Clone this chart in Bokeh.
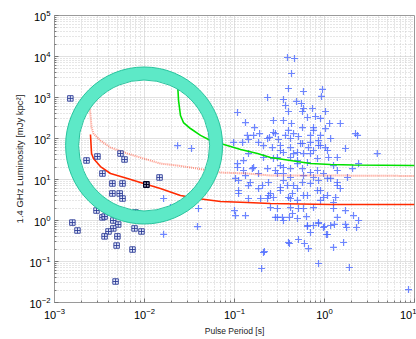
from bokeh.plotting import figure
from bokeh.models import FixedTicker
from bokeh.embed import file_html
from bokeh.resources import INLINE

# ---- normal pulsars (period [s], 1.4 GHz luminosity [mJy kpc^2]) ----
psr_period = [
    0.0233, 0.0333, 0.0398, 0.0194, 0.0163, 0.0388, 0.0163, 0.210, 0.200, 0.108,
    0.1325, 0.167, 0.139, 0.123, 0.185, 0.233, 0.210, 0.108, 0.126, 0.158,
    0.233, 0.185, 0.1325, 0.111, 0.143, 0.185, 0.239, 0.111, 0.195, 0.239,
    0.100, 0.1325, 0.233,
    0.388, 0.464, 0.430, 0.398, 0.350, 0.584, 0.950, 0.926, 0.489, 0.555,
    0.369, 0.398, 0.570, 0.647, 0.794, 0.903, 1.026, 0.271, 0.350, 0.430,
    0.398, 0.570, 0.755, 1.14, 0.163, 0.190, 0.143, 0.245, 0.285, 0.308,
    0.369, 0.514, 0.699, 0.858, 1.17, 0.0977, 0.264, 0.324, 0.419, 0.541,
    0.664, 0.903, 0.350, 0.453, 0.584, 0.755, 1.08, 0.143, 0.210, 0.271,
    0.501, 0.647, 0.836, 1.39, 0.108, 0.163, 0.324, 0.419, 0.570, 1.26,
    0.126, 0.285, 0.350, 0.699, 0.1026, 0.150, 0.205, 0.350, 0.453, 0.570,
    0.858, 1.17, 1.39, 0.111, 0.251, 0.324, 0.441, 0.647, 0.836, 1.08,
    0.143, 0.233, 0.398, 0.501, 0.903, 1.26, 0.251, 0.514, 0.584, 0.441,
    0.1026, 0.285, 0.341, 0.408, 0.631, 0.858, 1.00, 1.17, 0.647, 0.699,
    1.08, 0.398, 0.514, 0.599, 0.664, 0.215, 0.858,
    1.50, 2.21, 2.33, 3.86, 1.71, 2.39, 2.05, 1.39, 1.80, 1.39,
    1.50, 1.33, 1.71, 1.26, 2.10, 2.39, 1.39,
    0.408, 0.647, 0.858, 1.05, 1.29, 1.26, 1.71, 1.76, 2.27, 1.63,
    1.89, 8.58, 0.584, 0.736,
    0.271, 0.453, 0.755, 0.903, 1.026, 0.419, 0.570, 0.699, 0.858, 1.026,
    0.699, 0.501, 0.324, 0.300, 0.419, 1.11, 0.350, 0.501, 0.836, 0.975,
    0.419, 0.584, 0.300, 0.755, 1.08, 0.324, 0.388, 0.501, 0.699, 0.903,
    0.584, 0.271, 0.419, 0.975, 0.300, 0.419, 0.755, 0.300, 0.350, 0.501,
    0.755, 0.975,
]
psr_lum = [
    67, 57, 1.96, 2.07, 3.44, 0.71, 0.46, 0.166, 0.0675, 431,
    245, 185, 119, 80, 80, 100, 67, 24.5, 29, 18.5,
    18.5, 14, 12.5, 9.45, 7.1, 6.0, 8.45, 4.56, 3.44, 4.07,
    1.75, 1.32, 1000,
    9450, 8940, 3850, 1660, 894, 1400, 1570, 1060, 800, 714,
    638, 456, 456, 325, 344, 308, 456, 275, 275, 232,
    157, 185, 185, 232, 119, 132, 94.5, 106, 132, 94.5,
    119, 112, 119, 89, 100, 80, 60, 67.5, 60, 75.5,
    60, 67.5, 45.6, 43, 43, 51, 51, 43, 34.4, 32.5,
    29, 26, 32.5, 34.4, 19.6, 19.6, 21.9, 18.5, 18.5, 21.9,
    16.6, 16.6, 14, 14.8, 10.6, 8.45, 7.14, 9.45, 7.14, 8.45,
    9.45, 10.6, 7.14, 5.39, 4.56, 5.39, 4.56, 4.07, 5.39, 4.07,
    3.44, 3.44, 3.64, 3.08, 3.08, 2.75, 2.07, 1.96, 1.96, 1.48,
    1.32, 1.19, 1.19, 1.19, 1.25, 0.894, 0.714, 0.755, 0.714, 0.51,
    0.456, 0.291, 0.344, 0.275, 0.207, 0.175, 0.0894,
    232, 132, 119, 43, 57, 24.5, 18.5, 16.6, 11.2, 8.45,
    6.03, 3.64, 1.75, 1.96, 1.32, 1.0, 1.19,
    0.275, 0.755, 0.845, 0.456, 0.80, 0.22, 0.80, 0.675, 0.675, 0.291,
    0.0714, 0.0207, 539, 539,
    140, 132, 157, 119, 175, 100, 75.5, 80, 67.5, 60,
    43, 45.6, 51, 34.4, 34.4, 34.4, 19.6, 24.5, 16.6, 14,
    11.2, 12.5, 14, 11.2, 10.6, 6.38, 7.14, 6.03, 8.0, 5.39,
    4.07, 3.64, 3.44, 3.64, 1.96, 2.07, 2.07, 1.19, 1.0, 1.12,
    0.755, 0.675,
]

# ---- millisecond pulsars ----
msp_period = [
    0.0015, 0.00227, 0.0030, 0.00541, 0.0060, 0.00341, 0.0044, 0.0057, 0.0044, 0.0053,
    0.0057, 0.0147, 0.00293, 0.00341, 0.0036, 0.00794, 0.00158, 0.0018, 0.0045, 0.0051,
    0.0045, 0.00398, 0.0036, 0.0050, 0.00775, 0.00926, 0.0049, 0.00736, 0.00477,
]
msp_lum = [
    950, 29.1, 36.4, 43, 30.8, 14.0, 8.0, 8.0, 4.56, 4.56,
    3.44, 11.2, 1.75, 1.19, 1.25, 1.57, 0.89, 0.57, 1.0, 0.80,
    0.64, 0.54, 0.41, 0.41, 0.64, 0.54, 0.245, 0.196, 0.0325,
]
msp_hl_period = [0.0105]
msp_hl_lum = [7.55]

# ---- sensitivity curves ----
green_period = [0.0233, 0.0239, 0.0251, 0.0271, 0.0324, 0.0419, 0.0541, 0.0699,
                0.117, 0.180, 0.251, 0.419, 0.699, 1.17, 2.1, 10]
green_lum = [2190, 845, 364, 245, 175, 119, 89, 75.5,
             54, 43, 34.4, 29, 24.5, 23.2, 22.6, 21.9]

red_period = [0.00251, 0.00258, 0.00271, 0.00324, 0.00419, 0.00647, 0.00977, 0.015,
              0.0251, 0.0388, 0.0699, 0.139, 0.251, 1.17, 10]
red_lum = [125, 43, 32.5, 20.7, 14, 10.6, 8.0, 6.0,
           4.07, 3.44, 2.91, 2.75, 2.6, 2.45, 2.45]

reddot_period = [0.00245, 0.00251, 0.00258, 0.00271, 0.00324, 0.00419, 0.00647, 0.00977,
                 0.015, 0.0233, 0.0388, 0.0699, 0.139, 0.251, 1.17, 10]
reddot_lum = [638, 364, 185, 132, 89, 60, 43, 32.5,
              24.5, 21.9, 18.5, 14.8, 14, 12.5, 12.5, 12.2]

# ---- highlight ring (centre) ----
ring_period = [0.0099]
ring_lum = [67.5]

x_ticks = [1e-3, 1e-2, 1e-1, 1e0, 1e1]
y_ticks = [1e-2, 1e-1, 1e0, 1e1, 1e2, 1e3, 1e4, 1e5]
x_minor = [m * t for t in x_ticks[:-1] for m in range(2, 10)]
y_minor = [m * t for t in y_ticks[:-1] for m in range(2, 10)]

FONT = "Liberation Sans"

p = figure(width=416, height=339, x_axis_type="log", y_axis_type="log",
           x_range=(1e-3, 10), y_range=(1e-2, 1e5),
           output_backend="svg", toolbar_location=None,
           min_border_left=54, min_border_top=15, min_border_right=2,
           min_border_bottom=37,
           background_fill_color="white", border_fill_color="white")
p.outline_line_color = "#9a9a9a"

p.xaxis.ticker = FixedTicker(ticks=x_ticks, minor_ticks=x_minor)
p.yaxis.ticker = FixedTicker(ticks=y_ticks, minor_ticks=y_minor)

for ax in (p.xaxis, p.yaxis):
    ax.axis_line_color = "#9a9a9a"
    ax.major_tick_line_color = "#777777"
    ax.minor_tick_line_color = "#777777"
    ax.major_tick_in = 4
    ax.major_tick_out = 0
    ax.minor_tick_in = 2
    ax.minor_tick_out = 0
    ax.major_label_text_font = FONT
    ax.major_label_text_font_size = "11px"
    ax.major_label_text_color = "black"
    ax.axis_label_text_font = FONT
    ax.axis_label_text_font_style = "normal"
    ax.axis_label_text_color = "#222222"

p.xaxis.axis_label = "Pulse Period [s]"
p.yaxis.axis_label = "1.4 GHz Luminosity [mJy kpc²]"
p.xaxis.axis_label_text_font_size = "8.5px"
p.yaxis.axis_label_text_font_size = "9.5px"
p.xaxis.major_label_standoff = 5
p.xaxis.axis_label_standoff = 4
p.yaxis.major_label_standoff = 4
p.yaxis.axis_label_standoff = 1

for g in (p.xgrid, p.ygrid):
    g.grid_line_color = "#c2c2c2"
    g.grid_line_dash = "1 1"
    g.minor_grid_line_color = "#cdcdcd"
    g.minor_grid_line_dash = "1 2"

# normal pulsars
p.scatter(psr_period, psr_lum, marker="cross", size=7,
          line_color="#4a68ff", line_alpha=0.8, line_width=1.2)

# curves
p.line(green_period, green_lum, line_color="#00e000", line_width=1.6)
p.line(reddot_period, reddot_lum, line_color="#ff5a40", line_alpha=0.65,
       line_width=2, line_dash="1 1")
p.line(red_period, red_lum, line_color="#ff2a00", line_width=1.6)

# millisecond pulsars
p.scatter(msp_period, msp_lum, marker="square_cross", size=5.5,
          line_color="#2a3a95", line_width=0.9, fill_color="#e4eaff", fill_alpha=0.7)
p.scatter(msp_hl_period, msp_hl_lum, marker="square_cross", size=5.5,
          line_color="#000022", line_width=1.3, fill_color="#e4eaff")

# highlight ring
p.scatter(ring_period, ring_lum, marker="circle", size=144, fill_color=None,
          line_color="#5de9c7", line_width=13)
p.scatter(ring_period, ring_lum, marker="circle", size=157, fill_color=None,
          line_color="#29c49e", line_width=1)
p.scatter(ring_period, ring_lum, marker="circle", size=131, fill_color=None,
          line_color="#29c49e", line_width=1)

open("out.html", "w").write(file_html(p, INLINE))
